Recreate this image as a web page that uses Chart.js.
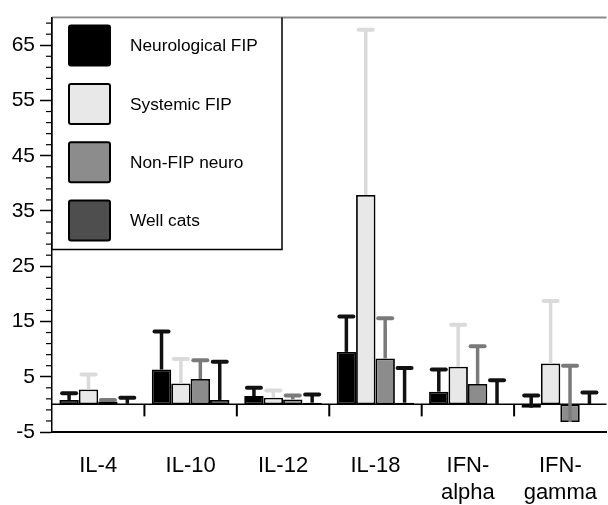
<!DOCTYPE html>
<html>
<head>
<meta charset="utf-8">
<script src="https://cdn.jsdelivr.net/npm/chart.js@4/dist/chart.umd.min.js"></script>
<style>
  html, body { margin: 0; padding: 0; overflow: hidden; background: #fff; }
  #wrap { position: relative; width: 610px; height: 505px; }
</style>
</head>
<body>
<div id="wrap"><canvas id="cytoChart"></canvas></div>
<script>
// ==== data ====
const categories = ["IL-4", "IL-10", "IL-12", "IL-18", ["IFN-", "alpha"], ["IFN-", "gamma"]];
const groupNames = ["Neurological FIP", "Systemic FIP", "Non-FIP neuro", "Well cats"];

const neuroVals    = [0.8, 6.3, 1.5, 9.5, 2.3, -0.6];
const neuroErr     = [1.2, 6.9, 1.5, 6.4, 4.0, 2.2];
const systemicVals = [2.7, 3.8, 1.2, 37.9, 6.8, 7.4];
const systemicErr  = [2.7, 4.4, 1.3, 29.9, 7.6, 11.3];
const nonFipVals   = [0.5, 4.6, 0.9, 8.3, 3.7, -3.2];
const nonFipErr    = [0.3, 3.4, 0.7, 7.3, 6.8, 10.2];
const wellVals     = [0.1, 0.8, 0.3, 0.3, 0.05, 0.05];
const wellErr      = [1.1, 6.9, 1.5, 6.3, 4.3, 2.1];

const yTicks = [-5, 5, 15, 25, 35, 45, 55, 65];

const FONT = '"Liberation Sans", Arial, sans-serif';

// error bars, axis bits and legend box
const extrasPlugin = {
  id: 'extras',
  beforeDatasetsDraw(chart) {
    const { ctx, chartArea, scales } = chart;
    const y0 = scales.y.getPixelForValue(0);
    ctx.save();
    ctx.strokeStyle = '#000';
    ctx.lineWidth = 1.5;
    ctx.beginPath();
    ctx.moveTo(chartArea.left, y0);
    ctx.lineTo(chartArea.right, y0);
    ctx.stroke();
    // category boundary ticks on the zero line
    const xs = scales.x;
    for (let i = 1; i < categories.length; i++) {
      const bx = (xs.getPixelForValue(i - 1) + xs.getPixelForValue(i)) / 2;
      ctx.lineWidth = 2;
      ctx.beginPath();
      ctx.moveTo(bx, y0);
      ctx.lineTo(bx, y0 + 12);
      ctx.stroke();
    }
    ctx.restore();
  },
  afterDatasetsDraw(chart) {
    const { ctx, scales } = chart;
    const ys = scales.y;
    ctx.save();
    chart.data.datasets.forEach((ds, i) => {
      const meta = chart.getDatasetMeta(i);
      meta.data.forEach((bar, j) => {
        const v = ds.data[j];
        const e = ds.errors[j];
        const yb = ys.getPixelForValue(v);
        const yt = ys.getPixelForValue(v + e);
        ctx.strokeStyle = ds.errColor;
        ctx.lineCap = 'butt';
        ctx.lineWidth = 3.5;
        ctx.beginPath();
        ctx.moveTo(bar.x, yb);
        ctx.lineTo(bar.x, yt);
        ctx.stroke();
        ctx.lineCap = 'round';
        ctx.lineWidth = 4;
        ctx.beginPath();
        ctx.moveTo(bar.x - 7, yt);
        ctx.lineTo(bar.x + 7, yt);
        ctx.stroke();
      });
    });
    ctx.restore();
  },
  afterDraw(chart) {
    const { ctx, chartArea, scales } = chart;
    const ys = scales.y;
    ctx.save();
    // minor ticks
    ctx.strokeStyle = '#000';
    ctx.lineWidth = 1.2;
    for (let v = -3; v < 70; v += 2) {
      if ((v + 5) % 10 === 0) continue;
      const py = ys.getPixelForValue(v);
      ctx.beginPath();
      ctx.moveTo(chartArea.left - 6, py);
      ctx.lineTo(chartArea.left, py);
      ctx.stroke();
    }
    // top border
    ctx.strokeStyle = '#8a8a8a';
    ctx.lineWidth = 2;
    ctx.beginPath();
    ctx.moveTo(chartArea.left, chartArea.top);
    ctx.lineTo(chartArea.right, chartArea.top);
    ctx.stroke();

    // legend box
    const lx = chartArea.left, ly = chartArea.top, lw = 230, lh = 232;
    ctx.fillStyle = '#fff';
    ctx.fillRect(lx, ly + 1, lw, lh - 1);
    ctx.strokeStyle = '#000';
    ctx.lineWidth = 1.5;
    ctx.beginPath();
    ctx.moveTo(lx, ly);
    ctx.lineTo(lx, ly + lh);
    ctx.lineTo(lx + lw, ly + lh);
    ctx.lineTo(lx + lw, ly);
    ctx.stroke();
    chart.data.datasets.forEach((ds, i) => {
      const sy = ly + 8 + i * 58.3;
      ctx.fillStyle = ds.backgroundColor;
      ctx.strokeStyle = '#000';
      ctx.lineWidth = 2;
      ctx.beginPath();
      ctx.roundRect(lx + 17, sy, 41, 40, 2);
      ctx.fill();
      ctx.stroke();
      ctx.fillStyle = '#000';
      ctx.font = '17.3px ' + FONT;
      ctx.textBaseline = 'middle';
      ctx.textAlign = 'left';
      ctx.fillText(ds.label, lx + 78, sy + 21);
    });
    ctx.restore();
  }
};

function makeSet(label, vals, errs, fill, errColor) {
  return {
    label: label,
    data: vals,
    errors: errs,
    errColor: errColor,
    backgroundColor: fill,
    borderColor: '#000',
    borderWidth: 1.8,
    borderSkipped: false,
    categoryPercentage: 0.84,
    barPercentage: 1.0
  };
}

new Chart(document.getElementById('cytoChart'), {
  type: 'bar',
  data: {
    labels: categories,
    datasets: [
      makeSet(groupNames[0], neuroVals, neuroErr, '#000000', '#111111'),
      makeSet(groupNames[1], systemicVals, systemicErr, '#e8e8e8', '#dadada'),
      makeSet(groupNames[2], nonFipVals, nonFipErr, '#8c8c8c', '#7a7a7a'),
      makeSet(groupNames[3], wellVals, wellErr, '#4e4e4e', '#111111')
    ]
  },
  options: {
    responsive: true,
    maintainAspectRatio: false,
    animation: false,
    layout: { padding: { top: 15, right: 0, left: 0, bottom: 0 } },
    plugins: {
      legend: { display: false },
      tooltip: { enabled: false }
    },
    scales: {
      x: {
        grid: { display: false },
        border: { display: true, color: '#000', width: 2 },
        ticks: {
          color: '#000',
          font: { family: FONT, size: 22 },
          padding: 13,
          maxRotation: 0,
          autoSkip: false
        },
        afterFit(scale) { scale.height = 73; }
      },
      y: {
        min: -5,
        max: 70,
        afterBuildTicks(scale) { scale.ticks = yTicks.map(v => ({ value: v })); },
        grid: { drawOnChartArea: false, tickLength: 12, tickColor: '#000', tickWidth: 1.5 },
        border: { display: true, color: '#000', width: 1.5 },
        ticks: {
          color: '#000',
          font: { family: FONT, size: 21 },
          padding: 5
        },
        afterFit(scale) { scale.width = 52; }
      }
    }
  },
  plugins: [extrasPlugin]
});
</script>
</body>
</html>
